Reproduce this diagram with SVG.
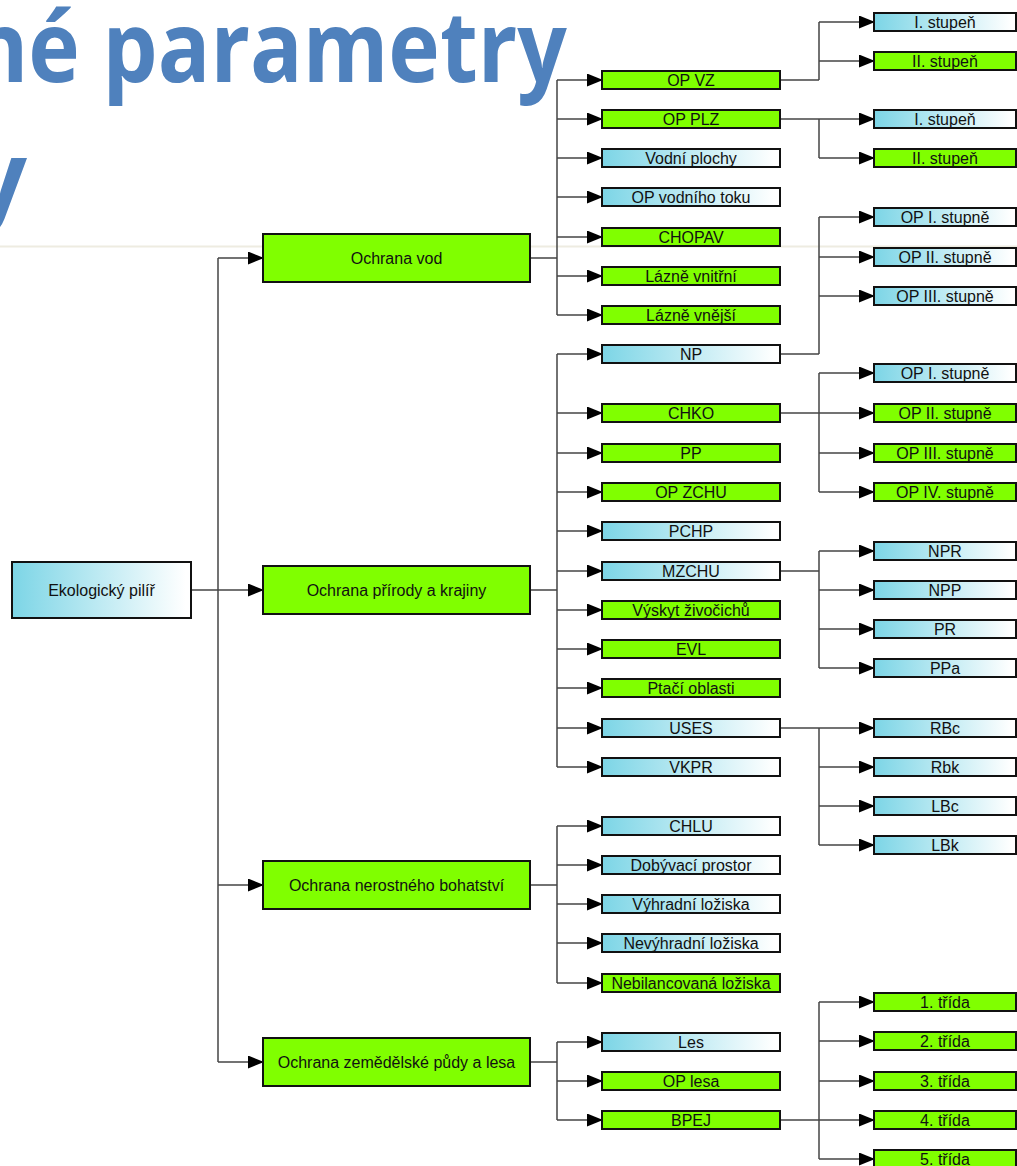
<svg xmlns="http://www.w3.org/2000/svg" width="1017" height="1166" viewBox="0 0 1017 1166">
<defs>
<linearGradient id="gb" x1="0" y1="0" x2="1" y2="0">
<stop offset="0" stop-color="#7cd5e6"/>
<stop offset="0.97" stop-color="#ffffff"/>
</linearGradient>
<marker id="a" viewBox="0 0 16 13" markerWidth="16" markerHeight="13" refX="15" refY="6.5" markerUnits="userSpaceOnUse" orient="auto">
<path d="M0,0 L16,6.5 L0,13 z" fill="#000"/>
</marker>
<style>
.title{font-family:"Open Sans","Lato",sans-serif;font-weight:700;font-size:98px;fill:#4f81bd}
rect.g,rect.b{stroke:#111;stroke-width:2}
.g{fill:#80ff00}
.b{fill:url(#gb)}
text.t{font-family:"Liberation Sans",Arial,sans-serif;font-size:16px;text-anchor:middle;fill:#111}
#connectors path{stroke:#444;stroke-width:1.5;fill:none}
#connectors path.ar{marker-end:url(#a)}
</style>
</defs>
<rect x="0" y="0" width="1017" height="1166" fill="#fff"/>
<line x1="0" y1="246.5" x2="1017" y2="246.5" stroke="#eeece1" stroke-width="2"/>
<g id="title">
<text class="title" x="-29" y="82" textLength="596" lengthAdjust="spacingAndGlyphs">né parametry</text>
<text class="title" x="27" y="212" text-anchor="end">y</text>
</g>
<g id="connectors">
<path class="ar" d="M192,590 H263"/>
<path d="M218,258 V1062"/>
<path class="ar" d="M218,258 H263"/>
<path class="ar" d="M218,885 H263"/>
<path class="ar" d="M218,1062 H263"/>
<path d="M530,258 H557 M557,80 V315"/>
<path class="ar" d="M557,80 H602"/><path class="ar" d="M557,119 H602"/><path class="ar" d="M557,158 H602"/><path class="ar" d="M557,197 H602"/><path class="ar" d="M557,237 H602"/><path class="ar" d="M557,276 H602"/><path class="ar" d="M557,315 H602"/>
<path d="M530,590 H557 M557,354 V767"/>
<path class="ar" d="M557,354 H602"/><path class="ar" d="M557,413 H602"/><path class="ar" d="M557,453 H602"/><path class="ar" d="M557,492 H602"/><path class="ar" d="M557,531 H602"/><path class="ar" d="M557,571 H602"/><path class="ar" d="M557,610 H602"/><path class="ar" d="M557,649 H602"/><path class="ar" d="M557,688 H602"/><path class="ar" d="M557,728 H602"/><path class="ar" d="M557,767 H602"/>
<path d="M530,885 H557 M557,826 V983"/>
<path class="ar" d="M557,826 H602"/><path class="ar" d="M557,865 H602"/><path class="ar" d="M557,904 H602"/><path class="ar" d="M557,943 H602"/><path class="ar" d="M557,983 H602"/>
<path d="M530,1062 H557 M557,1042 V1120"/>
<path class="ar" d="M557,1042 H602"/><path class="ar" d="M557,1081 H602"/><path class="ar" d="M557,1120 H602"/>
<path d="M780,80 H819 M819,22 V80"/>
<path class="ar" d="M819,22 H874"/><path class="ar" d="M819,61 H874"/>
<path d="M819,119 V158"/>
<path class="ar" d="M780,119 H874"/><path class="ar" d="M819,158 H874"/>
<path d="M780,354 H819 M819,217 V354"/>
<path class="ar" d="M819,217 H874"/><path class="ar" d="M819,257 H874"/><path class="ar" d="M819,296 H874"/>
<path d="M819,373 V492"/>
<path class="ar" d="M819,373 H874"/><path class="ar" d="M780,413 H874"/><path class="ar" d="M819,453 H874"/><path class="ar" d="M819,492 H874"/>
<path d="M780,571 H819 M819,551 V668"/>
<path class="ar" d="M819,551 H874"/><path class="ar" d="M819,590 H874"/><path class="ar" d="M819,629 H874"/><path class="ar" d="M819,668 H874"/>
<path d="M819,728 V845"/>
<path class="ar" d="M780,728 H874"/><path class="ar" d="M819,767 H874"/><path class="ar" d="M819,806 H874"/><path class="ar" d="M819,845 H874"/>
<path d="M819,1002 V1159"/>
<path class="ar" d="M819,1002 H874"/><path class="ar" d="M819,1041 H874"/><path class="ar" d="M819,1081 H874"/><path class="ar" d="M780,1120 H874"/><path class="ar" d="M819,1159 H874"/>
</g>
<g id="n-root"><rect class="b" x="12" y="562" width="179" height="56"/><text class="t" x="101.5" y="596">Ekologický pilíř</text></g>
<g id="n-vod"><rect class="g" x="263" y="234" width="267" height="48"/><text class="t" x="396.5" y="264">Ochrana vod</text></g>
<g id="n-prirody"><rect class="g" x="263" y="566" width="267" height="48"/><text class="t" x="396.5" y="596">Ochrana přírody a krajiny</text></g>
<g id="n-nerost"><rect class="g" x="263" y="861" width="267" height="48"/><text class="t" x="396.5" y="891">Ochrana nerostného bohatství</text></g>
<g id="n-zem"><rect class="g" x="263" y="1038" width="267" height="48"/><text class="t" x="396.5" y="1068">Ochrana zemědělské půdy a lesa</text></g>
<g id="n-opvz"><rect class="g" x="602" y="71" width="178" height="18"/><text class="t" x="691" y="86">OP VZ</text></g>
<g id="n-opplz"><rect class="g" x="602" y="110" width="178" height="18"/><text class="t" x="691" y="125">OP PLZ</text></g>
<g id="n-vodni"><rect class="b" x="602" y="149" width="178" height="18"/><text class="t" x="691" y="164">Vodní plochy</text></g>
<g id="n-optoku"><rect class="b" x="602" y="188" width="178" height="18"/><text class="t" x="691" y="203">OP vodního toku</text></g>
<g id="n-chopav"><rect class="g" x="602" y="228" width="178" height="18"/><text class="t" x="691" y="243">CHOPAV</text></g>
<g id="n-laznevn"><rect class="g" x="602" y="267" width="178" height="18"/><text class="t" x="691" y="282">Lázně vnitřní</text></g>
<g id="n-laznevj"><rect class="g" x="602" y="306" width="178" height="18"/><text class="t" x="691" y="321">Lázně vnější</text></g>
<g id="n-np"><rect class="b" x="602" y="345" width="178" height="18"/><text class="t" x="691" y="360">NP</text></g>
<g id="n-chko"><rect class="g" x="602" y="404" width="178" height="18"/><text class="t" x="691" y="419">CHKO</text></g>
<g id="n-pp"><rect class="g" x="602" y="444" width="178" height="18"/><text class="t" x="691" y="459">PP</text></g>
<g id="n-opzchu"><rect class="g" x="602" y="483" width="178" height="18"/><text class="t" x="691" y="498">OP ZCHU</text></g>
<g id="n-pchp"><rect class="b" x="602" y="522" width="178" height="18"/><text class="t" x="691" y="537">PCHP</text></g>
<g id="n-mzchu"><rect class="b" x="602" y="562" width="178" height="18"/><text class="t" x="691" y="577">MZCHU</text></g>
<g id="n-vyskyt"><rect class="g" x="602" y="601" width="178" height="18"/><text class="t" x="691" y="616">Výskyt živočichů</text></g>
<g id="n-evl"><rect class="g" x="602" y="640" width="178" height="18"/><text class="t" x="691" y="655">EVL</text></g>
<g id="n-ptaci"><rect class="g" x="602" y="679" width="178" height="18"/><text class="t" x="691" y="694">Ptačí oblasti</text></g>
<g id="n-uses"><rect class="b" x="602" y="719" width="178" height="18"/><text class="t" x="691" y="734">USES</text></g>
<g id="n-vkpr"><rect class="b" x="602" y="758" width="178" height="18"/><text class="t" x="691" y="773">VKPR</text></g>
<g id="n-chlu"><rect class="b" x="602" y="817" width="178" height="18"/><text class="t" x="691" y="832">CHLU</text></g>
<g id="n-dobyv"><rect class="b" x="602" y="856" width="178" height="18"/><text class="t" x="691" y="871">Dobývací prostor</text></g>
<g id="n-vyhr"><rect class="b" x="602" y="895" width="178" height="18"/><text class="t" x="691" y="910">Výhradní ložiska</text></g>
<g id="n-nevyhr"><rect class="b" x="602" y="934" width="178" height="18"/><text class="t" x="691" y="949">Nevýhradní ložiska</text></g>
<g id="n-nebil"><rect class="g" x="602" y="974" width="178" height="18"/><text class="t" x="691" y="989">Nebilancovaná ložiska</text></g>
<g id="n-les"><rect class="b" x="602" y="1033" width="178" height="18"/><text class="t" x="691" y="1048">Les</text></g>
<g id="n-oplesa"><rect class="g" x="602" y="1072" width="178" height="18"/><text class="t" x="691" y="1087">OP lesa</text></g>
<g id="n-bpej"><rect class="g" x="602" y="1111" width="178" height="18"/><text class="t" x="691" y="1126">BPEJ</text></g>
<g id="n-vz1"><rect class="b" x="874" y="13" width="142" height="18"/><text class="t" x="945" y="28">I. stupeň</text></g>
<g id="n-vz2"><rect class="g" x="874" y="52" width="142" height="18"/><text class="t" x="945" y="67">II. stupeň</text></g>
<g id="n-plz1"><rect class="b" x="874" y="110" width="142" height="18"/><text class="t" x="945" y="125">I. stupeň</text></g>
<g id="n-plz2"><rect class="g" x="874" y="149" width="142" height="18"/><text class="t" x="945" y="164">II. stupeň</text></g>
<g id="n-np1"><rect class="b" x="874" y="208" width="142" height="18"/><text class="t" x="945" y="223">OP I. stupně</text></g>
<g id="n-np2"><rect class="b" x="874" y="248" width="142" height="18"/><text class="t" x="945" y="263">OP II. stupně</text></g>
<g id="n-np3"><rect class="b" x="874" y="287" width="142" height="18"/><text class="t" x="945" y="302">OP III. stupně</text></g>
<g id="n-chko1"><rect class="b" x="874" y="364" width="142" height="18"/><text class="t" x="945" y="379">OP I. stupně</text></g>
<g id="n-chko2"><rect class="g" x="874" y="404" width="142" height="18"/><text class="t" x="945" y="419">OP II. stupně</text></g>
<g id="n-chko3"><rect class="g" x="874" y="444" width="142" height="18"/><text class="t" x="945" y="459">OP III. stupně</text></g>
<g id="n-chko4"><rect class="g" x="874" y="483" width="142" height="18"/><text class="t" x="945" y="498">OP IV. stupně</text></g>
<g id="n-npr"><rect class="b" x="874" y="542" width="142" height="18"/><text class="t" x="945" y="557">NPR</text></g>
<g id="n-npp"><rect class="b" x="874" y="581" width="142" height="18"/><text class="t" x="945" y="596">NPP</text></g>
<g id="n-pr"><rect class="b" x="874" y="620" width="142" height="18"/><text class="t" x="945" y="635">PR</text></g>
<g id="n-ppa"><rect class="b" x="874" y="659" width="142" height="18"/><text class="t" x="945" y="674">PPa</text></g>
<g id="n-rbc"><rect class="b" x="874" y="719" width="142" height="18"/><text class="t" x="945" y="734">RBc</text></g>
<g id="n-rbk"><rect class="b" x="874" y="758" width="142" height="18"/><text class="t" x="945" y="773">Rbk</text></g>
<g id="n-lbc"><rect class="b" x="874" y="797" width="142" height="18"/><text class="t" x="945" y="812">LBc</text></g>
<g id="n-lbk"><rect class="b" x="874" y="836" width="142" height="18"/><text class="t" x="945" y="851">LBk</text></g>
<g id="n-t1"><rect class="g" x="874" y="993" width="142" height="18"/><text class="t" x="945" y="1008">1. třída</text></g>
<g id="n-t2"><rect class="g" x="874" y="1032" width="142" height="18"/><text class="t" x="945" y="1047">2. třída</text></g>
<g id="n-t3"><rect class="g" x="874" y="1072" width="142" height="18"/><text class="t" x="945" y="1087">3. třída</text></g>
<g id="n-t4"><rect class="g" x="874" y="1111" width="142" height="18"/><text class="t" x="945" y="1126">4. třída</text></g>
<g id="n-t5"><rect class="g" x="874" y="1150" width="142" height="18"/><text class="t" x="945" y="1165">5. třída</text></g>
</svg>
